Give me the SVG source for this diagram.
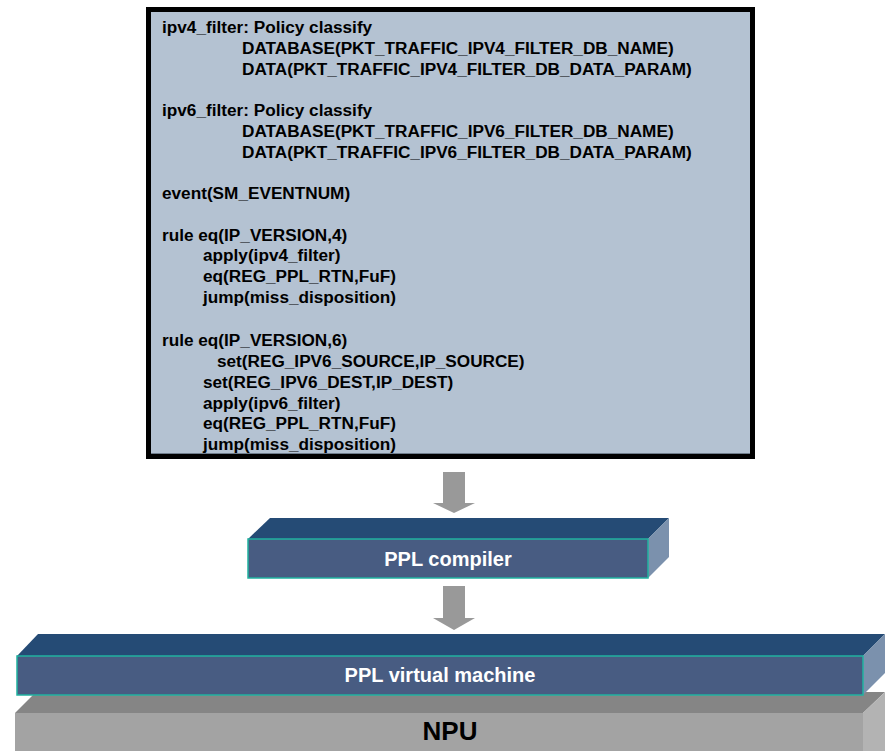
<svg xmlns="http://www.w3.org/2000/svg" width="892" height="751" viewBox="0 0 892 751">
<defs>
<style>
.code{font-family:"Liberation Sans",Arial,sans-serif;font-weight:bold;font-size:17.2px;fill:#000}
.lbl{font-family:"Liberation Sans",Arial,sans-serif;font-weight:bold;font-size:20px;fill:#fff;text-anchor:middle}
.npu{font-family:"Liberation Sans",Arial,sans-serif;font-weight:bold;font-size:26px;fill:#000;text-anchor:middle}
.arrow{fill:#999999}
.top{fill:#254b75}
.front{fill:#485c82;stroke:#20b2a0;stroke-width:1.5}
.side{fill:#7b91ad}
</style>
</defs>
<rect width="892" height="751" fill="#ffffff"/>
<g id="code-box">
<rect x="148.5" y="9.5" width="604" height="447" fill="#b4c2d2" stroke="#000" stroke-width="5"/>
<line x1="151" y1="453.5" x2="750" y2="453.5" stroke="#6f7d8c" stroke-width="1"/>
<text class="code" x="162" y="33">ipv4_filter: Policy classify</text>
<text class="code" x="242" y="54">DATABASE(PKT_TRAFFIC_IPV4_FILTER_DB_NAME)</text>
<text class="code" x="242" y="74.7">DATA(PKT_TRAFFIC_IPV4_FILTER_DB_DATA_PARAM)</text>
<text class="code" x="162" y="116">ipv6_filter: Policy classify</text>
<text class="code" x="242" y="137">DATABASE(PKT_TRAFFIC_IPV6_FILTER_DB_NAME)</text>
<text class="code" x="242" y="157.5">DATA(PKT_TRAFFIC_IPV6_FILTER_DB_DATA_PARAM)</text>
<text class="code" x="162" y="199">event(SM_EVENTNUM)</text>
<text class="code" x="162" y="241">rule eq(IP_VERSION,4)</text>
<text class="code" x="203" y="261">apply(ipv4_filter)</text>
<text class="code" x="203" y="282">eq(REG_PPL_RTN,FuF)</text>
<text class="code" x="203" y="303">jump(miss_disposition)</text>
<text class="code" x="162" y="346">rule eq(IP_VERSION,6)</text>
<text class="code" x="217" y="367">set(REG_IPV6_SOURCE,IP_SOURCE)</text>
<text class="code" x="203" y="388">set(REG_IPV6_DEST,IP_DEST)</text>
<text class="code" x="203" y="408.5">apply(ipv6_filter)</text>
<text class="code" x="203" y="429">eq(REG_PPL_RTN,FuF)</text>
<text class="code" x="203" y="449.5">jump(miss_disposition)</text>
</g>
<g id="connectors">
<polygon class="arrow" points="443,472 465,472 465,503 475,503 454,513 433,503 443,503"/>
<polygon class="arrow" points="443,586 465,586 465,618 475,618 454,630 433,618 443,618"/>
</g>
<g id="npu">
<polygon points="36,692 885,692 863,713 15,713" fill="#858585"/>
<polygon points="863,713 885,692 885,751 863,751" fill="#b3b3b3"/>
<rect x="15" y="713" width="848" height="38" fill="#a3a3a3"/>
<text class="npu" x="450" y="740">NPU</text>
</g>
<g id="ppl-vm">
<polygon class="top" points="38,634 885,634 863,656 17,656"/>
<polygon class="side" points="863,656 885,634 885,673 863,695"/>
<rect class="front" x="17" y="656" width="846" height="39"/>
<text class="lbl" x="440" y="682">PPL virtual machine</text>
</g>
<g id="ppl-compiler">
<polygon class="top" points="270,518 669,518 648,539 248,539"/>
<polygon class="side" points="648,539 669,518 669,557 648,578"/>
<rect class="front" x="248" y="539" width="400" height="39"/>
<text class="lbl" x="448" y="566">PPL compiler</text>
</g>
</svg>
